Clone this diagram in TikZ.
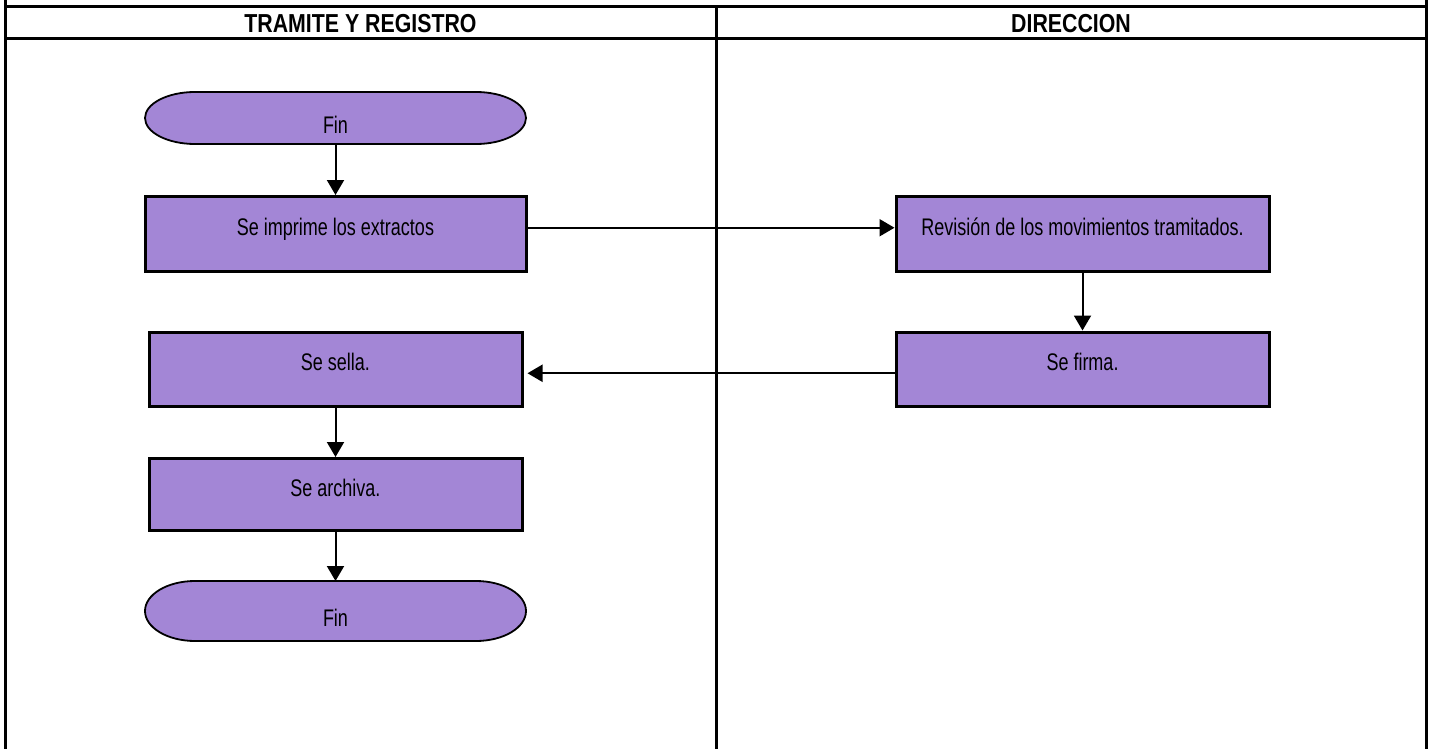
\documentclass[tikz,border=0pt]{standalone}
\usepackage{fontspec}
\newfontfamily\lanefont{Liberation Sans}[FakeStretch=0.75]
\newfontfamily\headfont{Liberation Sans}[FakeStretch=0.82]
\usepackage{tikz}
\usetikzlibrary{arrows.meta,calc,positioning,backgrounds}
\definecolor{flowpurple}{RGB}{163,134,214}

\begin{document}
\begin{tikzpicture}[x=1pt,y=1pt,>={Triangle[length=15pt,width=17pt]},
  every node/.style={font=\lanefont\fontsize{24}{28}\selectfont},
  lanehead/.style={font=\headfont\bfseries\fontsize{26}{30}\selectfont,text height=18.6pt,text depth=0pt,inner sep=0pt},
  procbox/.style={draw,line width=3pt,fill=flowpurple,minimum width=373pt,minimum height=74.5pt,inner sep=0pt,text height=17.5pt,text depth=14.3pt},
  termbox/.style={minimum width=381pt,minimum height=52pt,inner sep=0pt,outer sep=0pt,text height=36pt,text depth=4.8pt},
  termline/.style={draw,line width=1.8pt,fill=flowpurple},
  flow/.style={->,line width=2pt}]
  \useasboundingbox (0,0) rectangle (1432,-749);
  % swimlane frame
  \draw[line width=3pt] (5.5,0) -- (5.5,-749) (1426.5,0) -- (1426.5,-749);
  \draw[line width=3pt] (4,-7) -- (1428,-7) (4,-39) -- (1428,-39);
  \draw[line width=3pt] (716,-7) -- (716,-749);
  \node[lanehead] (tramite) at (360.5,-23) {TRAMITE Y REGISTRO};
  \node[lanehead] (direccion) at (1071,-23) {DIRECCION};
  % left lane
  \node[termbox] (inicio) at (335.5,-118) {Fin};
  \node[procbox,minimum width=381pt] (imprime) [below=51pt of inicio] {Se imprime los extractos};
  \node[procbox] (sella) [below=58pt of imprime] {Se sella.};
  \node[procbox,minimum height=72pt] (archiva) [below=49pt of sella] {Se archiva.};
  \node[termbox,minimum height=60pt] (fin) [below=49pt of archiva] {Fin};
  % right lane
  \node[procbox] (revision) [right=367pt of imprime] {Revisión de los movimientos tramitados.};
  \node[procbox] (firma) [below=58pt of revision] {Se firma.};
  \begin{scope}[on background layer]
    \foreach \t in {inicio,fin}
      \draw[termline] let \p1=($(\t.north)-(\t.south)$) in
        ($(\t.north west)+(50,0)$) -- ($(\t.north east)+(-50,0)$)
        arc[start angle=90,end angle=-90,x radius=50pt,y radius=0.5*\y1]
        -- ($(\t.south west)+(50,0)$)
        arc[start angle=270,end angle=90,x radius=50pt,y radius=0.5*\y1] -- cycle;
  \end{scope}
  \draw[flow] (inicio.south) -- (inicio.south |- imprime.north);
  \draw[flow] ([yshift=6pt]imprime.east) -- ([yshift=6pt]imprime.east -| revision.west);
  \draw[flow] (revision.south) -- (revision.south |- firma.north);
  \draw[flow,shorten >=4pt] ([yshift=-4pt]firma.west) -- ([yshift=-4pt]firma.west -| sella.east);
  \draw[flow] (sella.south) -- (sella.south |- archiva.north);
  \draw[flow] (archiva.south) -- (archiva.south |- fin.north);
\end{tikzpicture}
\end{document}
